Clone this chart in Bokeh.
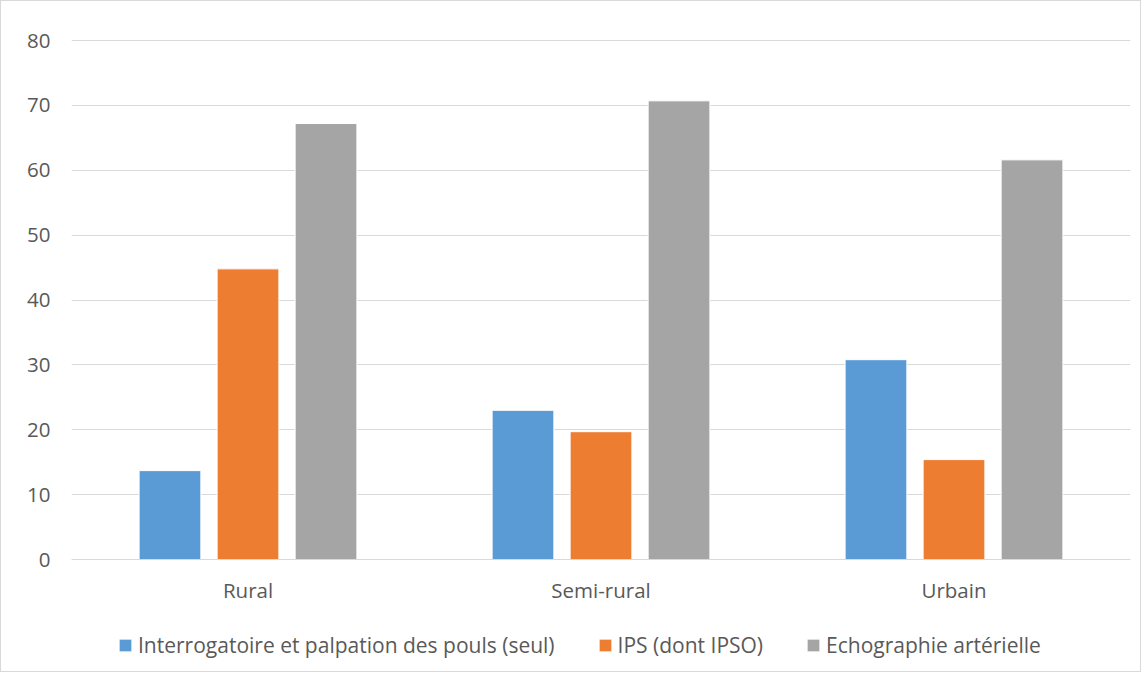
from bokeh.plotting import figure
from bokeh.models import FactorRange, Legend, LegendItem, ColumnDataSource, Range1d
from bokeh.transform import dodge
from bokeh.embed import file_html
from bokeh.resources import INLINE

categories = ["Rural", "Semi-rural", "Urbain"]
series_names = ["Interrogatoire et palpation des pouls (seul)", "IPS (dont IPSO)", "Echographie artérielle"]
interrogatoire = [13.7, 23.0, 30.8]
ips = [44.8, 19.7, 15.4]
echographie = [67.2, 70.7, 61.6]
y_ticks = [0, 10, 20, 30, 40, 50, 60, 70, 80]

colors = ["#5B9BD5", "#ED7D31", "#A5A5A5"]
FONT = "Open Sans"
TXT = "#595959"

# layout: value axis occupies 519 px for 0..80; extra px below 0 hold labels and legend,
# a couple of px above 80 keep the top gridline visible
PLOT_PX = 519
EXTRA_PX = 112
TOP_PX = 2
y_max_tick = max(y_ticks)
per_px = y_max_tick / PLOT_PX
y_min = -EXTRA_PX * per_px
y_max = y_max_tick + TOP_PX * per_px

source = ColumnDataSource(dict(cat=categories, s0=interrogatoire, s1=ips, s2=echographie))

p = figure(x_range=FactorRange(factors=categories), y_range=Range1d(y_min, y_max),
           frame_width=1059, frame_height=PLOT_PX + EXTRA_PX + TOP_PX, output_backend="svg",
           toolbar_location=None,
           min_border_left=70, min_border_right=10, min_border_top=39 - TOP_PX, min_border_bottom=0)
p.styles = {"border": "1px solid #D9D9D9"}
p.outline_line_color = None
p.background_fill_color = "white"
p.border_fill_color = "white"

offsets = [-0.221, 0.0, 0.221]
renderers = []
for i, key in enumerate(["s0", "s1", "s2"]):
    r = p.vbar(x=dodge("cat", offsets[i], range=p.x_range), top=key, bottom=0, width=0.175,
               source=source, fill_color=colors[i], line_color="white", line_width=1)
    renderers.append(r)

p.ygrid.grid_line_color = "#D9D9D9"
p.ygrid.grid_line_width = 1
p.ygrid.ticker = y_ticks
p.xgrid.grid_line_color = None

p.yaxis.ticker = y_ticks
p.yaxis.axis_line_color = None
p.yaxis.major_tick_line_color = None
p.yaxis.minor_tick_line_color = None
p.yaxis.major_label_standoff = 15
p.yaxis.major_label_text_font = FONT
p.yaxis.major_label_text_font_size = "20.5px"
p.yaxis.major_label_text_color = TXT

p.xaxis.fixed_location = 0
p.xaxis.axis_line_color = "#D9D9D9"
p.xaxis.major_tick_line_color = None
p.xaxis.minor_tick_line_color = None
p.xaxis.major_label_standoff = 10
p.xaxis.major_label_text_font = FONT
p.xaxis.major_label_text_font_size = "20.5px"
p.xaxis.major_label_text_color = TXT

legend = Legend(items=[LegendItem(label=series_names[i], renderers=[renderers[i]]) for i in range(3)],
                orientation="horizontal", location=(46, 12),
                glyph_width=16, glyph_height=16, label_standoff=5, spacing=42,
                label_text_font=FONT, label_text_font_size="21px", label_text_color=TXT,
                border_line_color=None, background_fill_alpha=0, margin=0, padding=4)
p.add_layout(legend, "center")

open("out.html", "w").write(file_html(p, INLINE))
